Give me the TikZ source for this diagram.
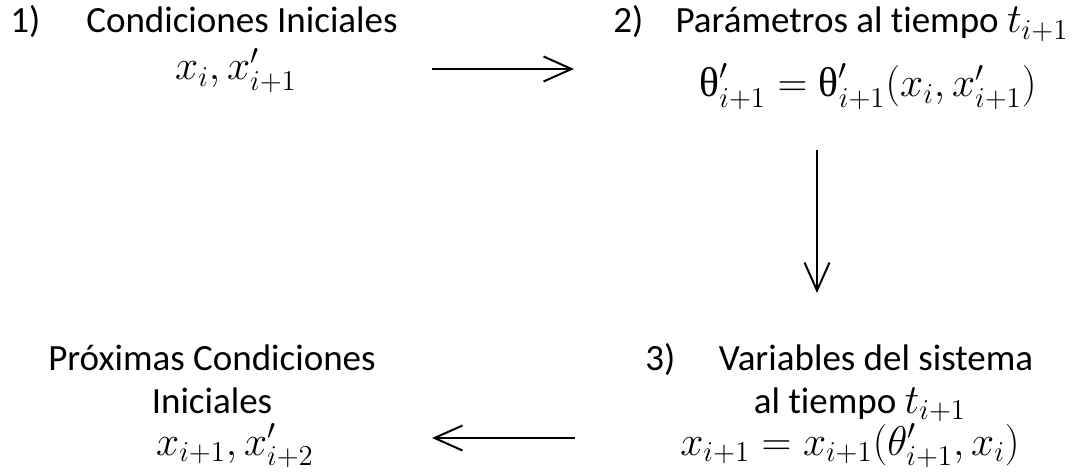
\documentclass[tikz,border=0pt]{standalone}
\usepackage{amsmath}
\usepackage{fontspec}
\setmainfont{Carlito}[Ligatures=NoCommon]
\newfontfamily\grfont{Liberation Serif}
\usetikzlibrary{positioning,arrows.meta}
\newcommand{\thup}{\mbox{\grfont θ}}
\newcommand{\mat}[1]{{\fontsize{20.8}{22}\selectfont$#1$}}

\begin{document}
\begin{tikzpicture}[
  x=0.5pt, y=-0.5pt,
  every node/.style={font=\fontsize{18.5}{22}\selectfont, inner sep=0pt},
  num/.style={anchor=base west},
  txt/.style={anchor=base},
  flecha/.style={line width=1pt, -{Straight Barb[length=14pt,width=12.5pt,line width=1pt]}},
]
\useasboundingbox (0,0) rectangle (1076,476);
% paso 1
\node[num] (n1) at (10,33) {1)};
\node[txt] (t1) at (242,33) {Condiciones Iniciales};
\node[txt] (f1) at (236,80) {\mat{x_i, x'_{i+1}}};
% paso 2
\node[num] (n2) at (613,33) {2)};
\node[txt] (t2) at (872,33) {Parámetros al tiempo \mat{t_{i+1}}};
\node[txt] (f2) at (868,97) {\mat{\thup'_{i+1} = \thup'_{i+1}(x_i, x'_{i+1})}};
% paso 3
\node[num] (n3) at (645,370) {3)};
\node[txt] (t3a) at (876,370) {Variables del sistema};
\node[txt] (t3b) at (860,413) {al tiempo \mat{t_{i+1}}};
\node[txt] (f3) at (850,455) {\mat{x_{i+1} = x_{i+1}(\theta'_{i+1}, x_i)}};
% siguiente
\node[txt] (t4a) at (212,370) {Próximas Condiciones};
\node[txt] (t4b) at (212,413) {Iniciales};
\node[txt] (f4) at (235,455) {\mat{x_{i+1}, x'_{i+2}}};
% flechas
\coordinate (a1) at (432,69);
\coordinate (a2) at (574,69);
\coordinate (b1) at (817,150);
\coordinate (b2) at (817,293);
\coordinate (c1) at (575,438);
\coordinate (c2) at (432,438);
\draw[flecha] (a1) -- (a2);
\draw[flecha] (b1) -- (b2);
\draw[flecha] (c1) -- (c2);
\end{tikzpicture}
\end{document}
